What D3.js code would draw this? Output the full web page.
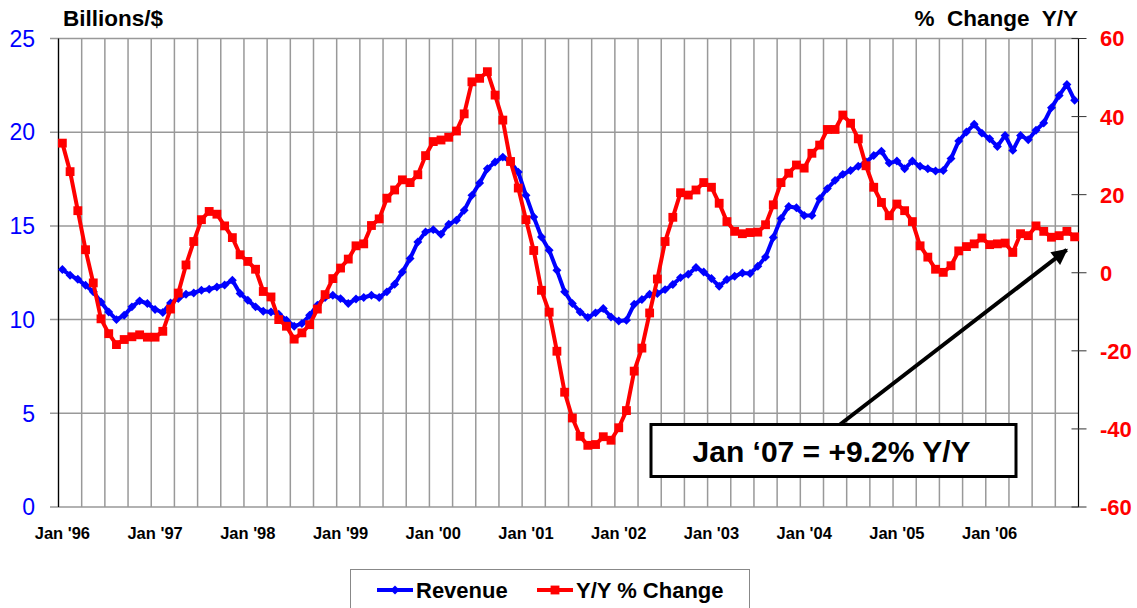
<!DOCTYPE html>
<meta charset='utf-8'>
<style>
body {
    margin: 0;
    background: #fff;
}
svg {
    display: block;
    font-family: Arial, 'Liberation Sans', sans-serif;
}
</style>
<body>
<div class='chart'></div>
<script src='https://d3js.org/d3.v7.min.js'></script>
<script>
// monthly categories, Jan '96 .. Dec '06
var months = ['Jan', 'Feb', 'Mar', 'Apr', 'May', 'Jun', 'Jul', 'Aug', 'Sep', 'Oct', 'Nov', 'Dec'];
var years = ['96', '97', '98', '99', '00', '01', '02', '03', '04', '05', '06'];

var tickLabels = ["Jan '96", "Jan '97", "Jan '98", "Jan '99", "Jan '00", "Jan '01",
    "Jan '02", "Jan '03", "Jan '04", "Jan '05", "Jan '06"];

// Billions/$
var revenue = [
    12.67, 12.37, 12.15, 11.83, 11.48, 10.94, 10.41, 10.0, 10.23, 10.68, 11.0, 10.86,
    10.54, 10.38, 10.89, 11.12, 11.35, 11.42, 11.57, 11.62, 11.74, 11.85, 12.1, 11.39,
    11.03, 10.68, 10.45, 10.41, 10.29, 9.97, 9.65, 9.79, 10.23, 10.77, 11.18, 11.3,
    11.12, 10.86, 11.1, 11.18, 11.3, 11.18, 11.48, 11.89, 12.54, 13.26, 14.14, 14.68,
    14.8, 14.55, 15.09, 15.3, 15.83, 16.63, 17.29, 18.05, 18.41, 18.67, 18.41, 17.87,
    16.63, 15.47, 14.41, 13.7, 12.63, 11.48, 10.86, 10.41, 10.11, 10.36, 10.59, 10.14,
    9.93, 9.97, 10.82, 11.07, 11.35, 11.39, 11.6, 11.87, 12.24, 12.42, 12.78, 12.54,
    12.19, 11.78, 12.14, 12.31, 12.49, 12.46, 12.85, 13.34, 14.38, 15.39, 16.04, 15.97,
    15.56, 15.56, 16.45, 16.99, 17.43, 17.75, 17.96, 18.18, 18.41, 18.76, 18.99, 18.35,
    18.46, 18.05, 18.46, 18.18, 18.05, 17.93, 17.96, 18.59, 19.53, 20.01, 20.42, 19.95,
    19.65, 19.24, 19.83, 19.03, 19.83, 19.6, 20.1, 20.49, 21.31, 21.96, 22.55, 21.7
];

// % change Y/Y
var yoy = [
    33.2, 25.9, 15.9, 5.9, -2.6, -11.8, -15.6, -18.4, -17.1, -16.4, -15.9, -16.5,
    -16.5, -15.0, -9.3, -5.2, 2.0, 8.0, 13.6, 15.7, 15.0, 12.0, 9.0, 4.6,
    2.9, 0.9, -4.8, -6.2, -12.0, -13.7, -17.0, -15.4, -13.3, -9.3, -5.6, -1.5,
    1.2, 3.5, 6.9, 7.4, 12.1, 13.8, 19.1, 21.2, 23.8, 23.1, 25.1, 30.0,
    33.6, 34.0, 34.7, 36.3, 40.7, 48.9, 49.8, 51.5, 45.5, 39.1, 28.5, 21.7,
    13.6, 5.7, -4.5, -10.1, -20.1, -30.6, -37.2, -41.9, -44.2, -44.0, -42.0, -42.9,
    -39.7, -35.3, -25.2, -19.3, -10.3, -1.6, 8.0, 14.2, 20.5, 19.9, 21.2, 23.1,
    21.9, 17.8, 13.1, 10.6, 10.0, 10.3, 10.4, 12.3, 17.4, 23.1, 25.5, 27.6,
    26.8, 30.6, 32.7, 36.7, 36.7, 40.4, 38.3, 34.3, 27.4, 21.9, 18.0, 14.6,
    17.6, 15.9, 13.1, 6.9, 4.0, 0.9, 0.1, 1.8, 5.6, 6.7, 7.4, 8.9,
    7.2, 7.4, 7.6, 5.2, 10.0, 9.5, 12.0, 10.6, 9.1, 9.5, 10.6, 9.2
];

var leftTicks = [0, 5, 10, 15, 20, 25];
var rightTicks = [-60, -40, -20, 0, 20, 40, 60];

var categories = [];
years.forEach(function(y) {
    months.forEach(function(m) { categories.push(m + " '" + y); });
});

var width = 1137, height = 608;
var plotL = 58.5, plotR = 1078.5, plotT = 38.5, plotB = 507;

var svg = d3.select('.chart').append('svg')
    .attr('width', width)
    .attr('height', height);

svg.append('rect').attr('width', width).attr('height', height).attr('fill', '#fff');

var x = d3.scaleBand().domain(categories).range([plotL, plotR]).padding(0);
var yL = d3.scaleLinear().domain([0, 25]).range([plotB, plotT]);
var yR = d3.scaleLinear().domain([-60, 60]).range([plotB, plotT]);
var cx = function(i) { return x(categories[i]) + x.bandwidth() / 2; };

// vertical gridlines every quarter
var vgrid = categories.filter(function(d, i) { return i % 3 === 0; });
svg.append('g').selectAll('line')
    .data(vgrid)
    .enter().append('line')
    .attr('x1', function(d) { return x(d); })
    .attr('x2', function(d) { return x(d); })
    .attr('y1', plotT).attr('y2', plotB)
    .attr('stroke', '#999')
    .attr('stroke-width', 1.5);

// horizontal gridlines
svg.append('g').selectAll('line')
    .data(leftTicks)
    .enter().append('line')
    .attr('x1', 50).attr('x2', plotR)
    .attr('y1', function(d) { return yL(d); })
    .attr('y2', function(d) { return yL(d); })
    .attr('stroke', '#999')
    .attr('stroke-width', 1.5);

// axis lines
svg.append('line').attr('x1', plotL).attr('x2', plotL).attr('y1', plotT).attr('y2', plotB)
    .attr('stroke', '#000').attr('stroke-width', 1.2);
svg.append('line').attr('x1', plotR).attr('x2', plotR).attr('y1', plotT).attr('y2', plotB)
    .attr('stroke', '#000').attr('stroke-width', 1.2);

svg.append('g').selectAll('line')
    .data(rightTicks)
    .enter().append('line')
    .attr('x1', plotR - 7).attr('x2', plotR + 8)
    .attr('y1', function(d) { return yR(d); })
    .attr('y2', function(d) { return yR(d); })
    .attr('stroke', '#333')
    .attr('stroke-width', 1);

// tick labels
svg.append('g').selectAll('text')
    .data(leftTicks)
    .enter().append('text')
    .attr('x', 35)
    .attr('y', function(d) { return yL(d); })
    .attr('dy', '0.36em')
    .attr('text-anchor', 'end')
    .attr('fill', '#0000ff')
    .style('font-size', '23px')
    .text(function(d) { return d; });

svg.append('g').selectAll('text')
    .data(rightTicks)
    .enter().append('text')
    .attr('x', 1100)
    .attr('y', function(d) { return yR(d); })
    .attr('dy', '0.36em')
    .attr('fill', '#ff0000')
    .style('font-size', '22px')
    .style('font-weight', 'bold')
    .text(function(d) { return d; });

svg.append('g').selectAll('text')
    .data(tickLabels)
    .enter().append('text')
    .attr('x', function(d, i) { return cx(i * 12); })
    .attr('y', 539)
    .attr('text-anchor', 'middle')
    .style('font-size', '16.5px')
    .style('font-weight', 'bold')
    .text(function(d) { return d; });

// axis titles
svg.append('text').attr('x', 63).attr('y', 26)
    .style('font-size', '22.5px').style('font-weight', 'bold')
    .text('Billions/$');
svg.append('text').attr('x', 1078).attr('y', 26)
    .attr('text-anchor', 'end')
    .style('font-size', '22.5px').style('font-weight', 'bold')
    .style('white-space', 'pre')
    .text('%  Change  Y/Y');

// series
var diamond = d3.symbol().type(d3.symbolSquare).size(40);
var square = d3.symbol().type(d3.symbolSquare).size(78);

var lineL = d3.line().x(function(d, i) { return cx(i); }).y(function(d) { return yL(d); });
var lineR = d3.line().x(function(d, i) { return cx(i); }).y(function(d) { return yR(d); });

svg.append('path').datum(revenue)
    .attr('d', lineL)
    .attr('fill', 'none')
    .attr('stroke', '#0000ff')
    .attr('stroke-width', 4)
    .attr('stroke-linejoin', 'round');
svg.append('g').selectAll('path')
    .data(revenue)
    .enter().append('path')
    .attr('d', diamond)
    .attr('transform', function(d, i) { return 'translate(' + cx(i) + ',' + yL(d) + ') rotate(45)'; })
    .attr('fill', '#0000ff');

svg.append('path').datum(yoy)
    .attr('d', lineR)
    .attr('fill', 'none')
    .attr('stroke', '#ff0000')
    .attr('stroke-width', 4)
    .attr('stroke-linejoin', 'round');
svg.append('g').selectAll('path')
    .data(yoy)
    .enter().append('path')
    .attr('d', square)
    .attr('transform', function(d, i) { return 'translate(' + cx(i) + ',' + yR(d) + ')'; })
    .attr('fill', '#ff0000');

// annotation
var last = yoy.length - 1;
var tipX = cx(last) - 8, tipY = yR(yoy[last]) + 13;
var boxX = 651, boxY = 424.5, boxW = 365, boxH = 52;

svg.append('defs').append('marker')
    .attr('id', 'arrow')
    .attr('viewBox', '0 0 10 10')
    .attr('refX', 9).attr('refY', 5)
    .attr('markerWidth', 4.5).attr('markerHeight', 4)
    .attr('markerUnits', 'strokeWidth')
    .attr('orient', 'auto')
    .append('path')
    .attr('d', 'M0,0 L10,5 L0,10 z')
    .attr('fill', '#000');

svg.append('line')
    .attr('x1', 840).attr('y1', boxY)
    .attr('x2', tipX).attr('y2', tipY)
    .attr('stroke', '#000')
    .attr('stroke-width', 4)
    .attr('marker-end', 'url(#arrow)');

svg.append('rect')
    .attr('x', boxX).attr('y', boxY)
    .attr('width', boxW).attr('height', boxH)
    .attr('fill', '#fff')
    .attr('stroke', '#000')
    .attr('stroke-width', 3);
svg.append('text')
    .attr('x', boxX + boxW / 2 - 2).attr('y', 461.5)
    .attr('text-anchor', 'middle')
    .style('font-size', '30px').style('font-weight', 'bold')
    .text('Jan \u201807 = +9.2% Y/Y');

// legend
var lg = svg.append('g');
lg.append('rect')
    .attr('x', 350.5).attr('y', 569.5)
    .attr('width', 399).attr('height', 60)
    .attr('fill', '#fff')
    .attr('stroke', '#888')
    .attr('stroke-width', 1);
lg.append('line').attr('x1', 377).attr('x2', 413).attr('y1', 590).attr('y2', 590)
    .attr('stroke', '#0000ff').attr('stroke-width', 4);
lg.append('path').attr('d', diamond)
    .attr('transform', 'translate(395,590) rotate(45)')
    .attr('fill', '#0000ff');
lg.append('text').attr('x', 416).attr('y', 597.5)
    .style('font-size', '22px').style('font-weight', 'bold')
    .text('Revenue');
lg.append('line').attr('x1', 537).attr('x2', 573).attr('y1', 590).attr('y2', 590)
    .attr('stroke', '#ff0000').attr('stroke-width', 4);
lg.append('path').attr('d', square)
    .attr('transform', 'translate(555,590)')
    .attr('fill', '#ff0000');
lg.append('text').attr('x', 576).attr('y', 597.5)
    .style('font-size', '22px').style('font-weight', 'bold')
    .text('Y/Y % Change');
</script>
</body>
